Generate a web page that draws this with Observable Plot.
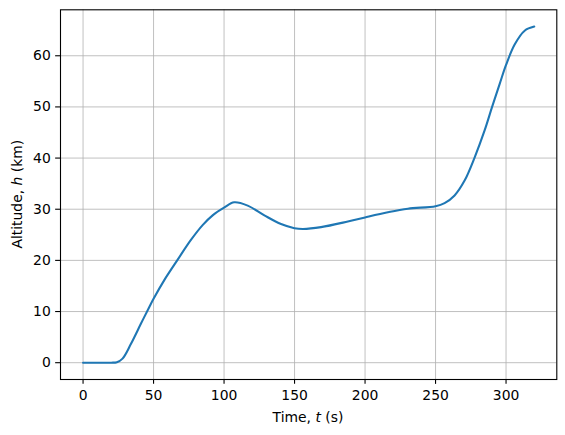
<!DOCTYPE html>
<html>
<head>
<meta charset="utf-8">
<script src="https://cdn.jsdelivr.net/npm/d3@7"></script>
<script src="https://cdn.jsdelivr.net/npm/@observablehq/plot@0.6"></script>
<style>
  html, body { margin: 0; padding: 0; background: white; }
</style>
</head>
<body>
<div id="chart"></div>
<script>
const time = [0, 10, 20, 24, 28, 34, 41, 47, 50, 57.5, 67, 76.5, 84.8, 91.9, 100, 107.2, 116.8, 128.6, 140.4, 149.9, 156, 168.8, 187.8, 200, 216.2, 230.4, 250, 256.4, 263.5, 270.6, 277.7, 284.8, 290, 295.5, 300, 306.1, 313.2, 320];
const altitude = [0, 0, 0, 0.1, 0.8, 3.7, 7.6, 10.9, 12.5, 16.1, 20.1, 24.0, 26.9, 28.8, 30.3, 31.35, 30.7, 28.8, 27.1, 26.3, 26.15, 26.5, 27.6, 28.4, 29.4, 30.1, 30.6, 31.2, 32.7, 35.6, 40.1, 45.4, 49.9, 54.5, 58.2, 62.2, 64.9, 65.7];
const xTicks = [0, 50, 100, 150, 200, 250, 300];
const yTicks = [0, 10, 20, 30, 40, 50, 60];

const table = time.map((t, i) => ({t, h: altitude[i]}));

const chart = Plot.plot({
  width: 565,
  height: 435,
  marginLeft: 60,
  marginRight: 8.7,
  marginTop: 9.3,
  marginBottom: 56,
  x: {domain: [-16, 336]},
  y: {domain: [-3.285, 68.985]},
  style: {fontFamily: "DejaVu Sans", fontSize: "13.9px", background: "white", color: "black"},
  marks: [
    Plot.gridX(xTicks, {stroke: "#b0b0b0", strokeOpacity: 1, strokeWidth: 0.8}),
    Plot.gridY(yTicks, {stroke: "#b0b0b0", strokeOpacity: 1, strokeWidth: 0.8}),
    Plot.line(table, {x: "t", y: "h", stroke: "#1f77b4", strokeWidth: 2.08, curve: "catmull-rom"}),
    Plot.frame({stroke: "black", strokeWidth: 1.1}),
    Plot.axisX(xTicks, {tickSize: 4.86, tickPadding: 6, strokeWidth: 1.1, label: null, fontSize: 13.9}),
    Plot.axisY(yTicks, {tickSize: 4.86, tickPadding: 4.86, strokeWidth: 1.1, label: null, fontSize: 13.9})
  ]
});

const svg = d3.select(chart);
const xl = svg.append("text")
  .attr("x", 308).attr("y", 422)
  .attr("text-anchor", "middle")
  .attr("font-family", "DejaVu Sans").attr("font-size", "13.9px").attr("fill", "black");
xl.append("tspan").text("Time, ");
xl.append("tspan").attr("font-style", "italic").text("t");
xl.append("tspan").text(" (s)");

const yl = svg.append("text")
  .attr("transform", "translate(21.5,194.2) rotate(-90)")
  .attr("text-anchor", "middle")
  .attr("font-family", "DejaVu Sans").attr("font-size", "13.9px").attr("fill", "black");
yl.append("tspan").text("Altitude, ");
yl.append("tspan").attr("font-style", "italic").text("h");
yl.append("tspan").text(" (km)");

document.getElementById("chart").appendChild(chart);
</script>
</body>
</html>
